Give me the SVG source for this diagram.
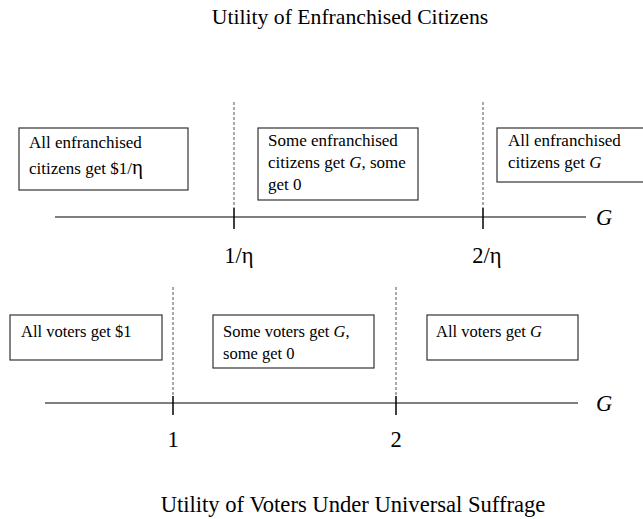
<svg xmlns="http://www.w3.org/2000/svg" width="643" height="519" viewBox="0 0 643 519">
<style>
text{font-family:"Liberation Serif","Times New Roman",serif;fill:#000}
.title{font-size:21.7px}
.title2{font-size:22.6px}
.bx{font-size:17px}
.bx2{font-size:16.5px}
.lbl{font-size:22.5px}
.it{font-style:italic}
.box{fill:#fff;stroke:#333;stroke-width:1.2}
.axis{stroke:#000;stroke-width:1.2}
.tick{stroke:#000;stroke-width:1.5}
.dash{stroke:#555;stroke-width:1;stroke-dasharray:3,2}
</style>
<rect width="643" height="519" fill="#fff"/>
<text class="title" x="350" y="24" text-anchor="middle">Utility of Enfranchised Citizens</text>
<g id="connectors">
<line class="dash" x1="234" y1="102" x2="234" y2="208"/>
<line class="dash" x1="483" y1="102" x2="483" y2="208"/>
<line class="axis" x1="55" y1="217" x2="586" y2="217"/>
<line class="tick" x1="234" y1="208" x2="234" y2="229"/>
<line class="tick" x1="483" y1="208" x2="483" y2="229"/>
<line class="dash" x1="173" y1="287" x2="173" y2="396"/>
<line class="dash" x1="396" y1="287" x2="396" y2="396"/>
<line class="axis" x1="45" y1="403" x2="578" y2="403"/>
<line class="tick" x1="173" y1="396" x2="173" y2="415"/>
<line class="tick" x1="396" y1="396" x2="396" y2="415"/>
</g>
<g id="axis-top-labels">
<text class="lbl it" x="596" y="225">G</text>
<text class="lbl" x="239" y="263" text-anchor="middle">1/η</text>
<text class="lbl" x="487" y="263" text-anchor="middle">2/η</text>
</g>
<g id="top-box1">
<rect class="box" x="19" y="128" width="169" height="62"/>
<text class="bx" x="29" y="148">All enfranchised</text>
<text class="bx" x="29" y="174">citizens get $1/<tspan font-size="21">η</tspan></text>
</g>
<g id="top-box2">
<rect class="box" x="258" y="128" width="160" height="72"/>
<text class="bx" x="268" y="146">Some enfranchised</text>
<text class="bx" x="268" y="168">citizens get <tspan class="it">G</tspan>, some</text>
<text class="bx" x="268" y="190">get 0</text>
</g>
<g id="top-box3">
<rect class="box" x="497" y="128" width="150" height="54"/>
<text class="bx" x="508" y="146">All enfranchised</text>
<text class="bx" x="508" y="168">citizens get <tspan class="it">G</tspan></text>
</g>
<g id="axis-bottom-labels">
<text class="lbl it" x="596" y="411">G</text>
<text class="lbl" x="173" y="447" text-anchor="middle">1</text>
<text class="lbl" x="396" y="447" text-anchor="middle">2</text>
</g>
<g id="bottom-box1">
<rect class="box" x="10" y="315" width="152" height="45"/>
<text class="bx2" x="21" y="337">All voters get $1</text>
</g>
<g id="bottom-box2">
<rect class="box" x="213" y="315" width="161" height="53"/>
<text class="bx2" x="223" y="337">Some voters get <tspan class="it">G</tspan>,</text>
<text class="bx2" x="223" y="359">some get 0</text>
</g>
<g id="bottom-box3">
<rect class="box" x="427" y="315" width="151" height="45"/>
<text class="bx2" x="436" y="337">All voters get <tspan class="it">G</tspan></text>
</g>
<text class="title2" x="353" y="512" text-anchor="middle">Utility of Voters Under Universal Suffrage</text>
</svg>
